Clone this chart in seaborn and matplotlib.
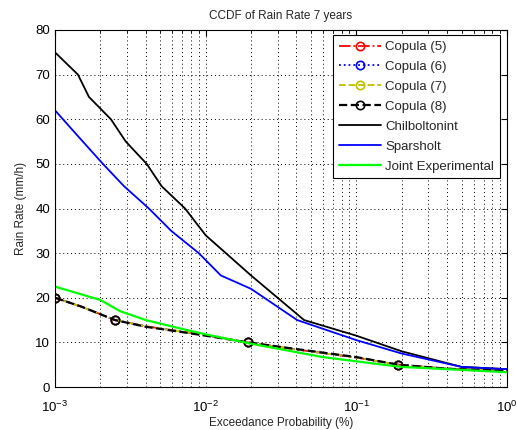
import numpy as np
import matplotlib
matplotlib.use("Agg")
import matplotlib.pyplot as plt
import seaborn as sns
from matplotlib.ticker import LogLocator, NullFormatter

sns.set_style("white")
plt.rcParams['font.family'] = ['Liberation Sans', 'DejaVu Sans']
plt.rcParams['mathtext.fontset'] = 'custom'
plt.rcParams['mathtext.rm'] = 'Liberation Sans'

# ---- data ----
cop_x = [1e-3, 1.5e-3, 2.5e-3, 4e-3, 7e-3, 1e-2, 1.9e-2, 4e-2, 0.1, 0.19, 0.4, 1.0]
cop5 = [20, 18, 15, 13.6, 12.4, 11.6, 10, 8.4, 6.6, 5, 4.1, 3.6]
cop6 = [20, 18, 15, 13.6, 12.4, 11.6, 10, 8.4, 6.6, 5, 4.1, 3.6]
cop7 = [20, 18, 15, 13.6, 12.4, 11.6, 10, 8.4, 6.6, 5, 4.1, 3.6]
cop8 = [20, 18, 15, 13.5, 12.3, 11.5, 10, 8.5, 6.7, 5, 4.1, 3.6]
marker_idx = [0, 2, 6, 9]

chil_x = [1e-3, 1.42e-3, 1.68e-3, 2.35e-3, 2.95e-3, 4.06e-3, 5.1e-3, 7.3e-3, 1e-2, 2e-2, 4.5e-2, 0.1, 0.2, 0.5, 1.0]
chil_y = [75, 70, 65, 60, 55, 50, 45, 40, 34, 25, 15, 11.5, 8, 4.5, 4]

spar_x = [1e-3, 1.53e-3, 2.08e-3, 2.87e-3, 4.2e-3, 5.9e-3, 9e-3, 1.26e-2, 2e-2, 4.05e-2, 0.1, 0.2, 0.5, 1.0]
spar_y = [62, 55, 50, 45, 40, 35, 30, 25, 22, 15, 10.5, 7.5, 4.5, 4]

joint_x = [1e-3, 2e-3, 2.7e-3, 4e-3, 7e-3, 1e-2, 2e-2, 6e-2, 0.15, 0.2, 0.4, 1.0]
joint_y = [22.5, 19.5, 17, 15, 13, 11.8, 9.7, 6.7, 5, 4.5, 4, 3.3]

fig = plt.figure(figsize=(5.17, 4.30), dpi=100)
ax = fig.add_axes([55/517, 1-387/430, (507-55)/517, (387-30)/430])
ax.set_xscale('log')

sns.lineplot(x=cop_x, y=cop5, ax=ax, color='red', linestyle='-.', marker='o', markevery=marker_idx,
             markerfacecolor='none', markeredgecolor='red', markersize=6, markeredgewidth=1.2, lw=1.3, label='Copula (5)')
sns.lineplot(x=cop_x, y=cop6, ax=ax, color='blue', linestyle=':', marker='o', markevery=marker_idx,
             markerfacecolor='none', markeredgecolor='blue', markersize=6, markeredgewidth=1.2, lw=1.3, label='Copula (6)')
sns.lineplot(x=cop_x, y=cop7, ax=ax, color=(0.75, 0.75, 0), linestyle='--', marker='o', markevery=marker_idx,
             markerfacecolor='none', markeredgecolor=(0.75, 0.75, 0), markersize=6, markeredgewidth=1.2, lw=1.3, label='Copula (7)')
sns.lineplot(x=cop_x, y=cop8, ax=ax, color='black', linestyle='--', marker='o', markevery=marker_idx,
             markerfacecolor='none', markeredgecolor='black', markersize=6, markeredgewidth=1.2, lw=1.6, label='Copula (8)')
sns.lineplot(x=chil_x, y=chil_y, ax=ax, color='black', lw=1.3, label='Chilboltonint')
sns.lineplot(x=spar_x, y=spar_y, ax=ax, color='blue', lw=1.3, label='Sparsholt')
sns.lineplot(x=joint_x, y=joint_y, ax=ax, color=(0, 1, 0), lw=1.6, label='Joint Experimental')

ax.set_xlim(1e-3, 1)
ax.set_ylim(0, 80)
ax.set_yticks(range(0, 81, 10))
ax.xaxis.set_major_locator(LogLocator(base=10, numticks=10))
ax.xaxis.set_minor_locator(LogLocator(base=10, subs=np.arange(2, 10), numticks=20))
ax.xaxis.set_minor_formatter(NullFormatter())
ax.grid(True, which='major', axis='both', color='black', linestyle=(0, (1, 3)), lw=0.7)
ax.grid(True, which='minor', axis='x', color='black', linestyle=(0, (1, 3)), lw=0.7)
ax.tick_params(axis='both', which='both', direction='in', top=True, right=True, labelsize=9.5, colors='black')
ax.tick_params(axis='x', which='major', pad=9)
ax.tick_params(which='major', length=4)
ax.tick_params(which='minor', length=2)
for s in ax.spines.values():
    s.set_color('black')
    s.set_linewidth(0.8)

ax.set_title('CCDF of Rain Rate 7 years', fontsize=8.5, pad=8)
ax.set_xlabel('Exceedance Probability (%)', fontsize=8.5, labelpad=2)
ax.set_ylabel('Rain Rate (mm/h)', fontsize=8.5, labelpad=6)

leg = ax.legend(loc='upper right', bbox_to_anchor=((500-55)/452, 1-5/357), borderaxespad=0, fontsize=9.5,
                frameon=True, fancybox=False, edgecolor='black', framealpha=1, handlelength=3.2,
                borderpad=0.45, labelspacing=0.58, handletextpad=0.3)
leg.get_frame().set_linewidth(0.8)

fig.savefig('out.png', dpi=100)
